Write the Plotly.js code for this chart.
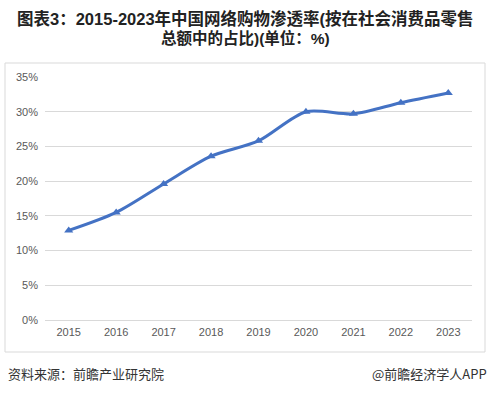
<!DOCTYPE html>
<html><head><meta charset="utf-8">
<script src="https://cdn.plot.ly/plotly-3.0.1.min.js"></script>
<style>html,body{margin:0;padding:0;background:#fff;}#c{width:491px;height:395px;}</style>
</head><body><div id="c"></div>
<script>
const years = ['2015','2016','2017','2018','2019','2020','2021','2022','2023'];
const rates = [12.9, 15.5, 19.6, 23.6, 25.8, 30.0, 29.7, 31.3, 32.7];
const yTicks = [0, 5, 10, 15, 20, 25, 30, 35];
const yTickText = ['0%', '5%', '10%', '15%', '20%', '25%', '30%', '35%'];
const titleLine1 = '图表3：2015-2023年中国网络购物渗透率(按在社会消费品零售';
const titleLine2 = '总额中的占比)(单位：%)';
const sourceText = '资料来源：前瞻产业研究院';
const brandText = '@前瞻经济学人APP';

const cjk = '"Noto Sans CJK SC", "Noto Sans", sans-serif';
const titleFont = '"Liberation Sans", "Noto Sans CJK SC", sans-serif';
const W = 491, H = 395, L = 45, R = 19, T = 77, B = 75;
const pw = W - L - R, ph = H - T - B;
const px = x => (x - L) / pw;
const py = y => (H - B - y) / ph;

Plotly.newPlot('c', [{
  x: years, y: rates, type: 'scatter', mode: 'lines+markers',
  line: {color: '#4472C4', width: 3, shape: 'spline', smoothing: 0.8},
  marker: {symbol: 'triangle-up', size: 8, color: '#4472C4'},
  hoverinfo: 'none'
}], {
  width: W, height: H,
  margin: {l: L, r: R, t: T, b: B},
  paper_bgcolor: '#fff', plot_bgcolor: '#fff',
  showlegend: false,
  xaxis: {
    type: 'category', range: [-0.5, 8.5], showgrid: false, showline: false, zeroline: false,
    ticks: '', tickfont: {family: '"Liberation Sans", Arial, sans-serif', size: 11, color: '#595959'},
    ticklabelstandoff: 4
  },
  yaxis: {
    range: [0, 35], tickvals: yTicks, ticktext: yTickText,
    showgrid: true, gridcolor: '#d9d9d9', gridwidth: 1, zeroline: true, zerolinecolor: '#d9d9d9', zerolinewidth: 1,
    showline: false, ticks: '',
    tickfont: {family: '"Liberation Sans", Arial, sans-serif', size: 11, color: '#595959'},
    ticklabelstandoff: 6
  },
  shapes: [{
    type: 'rect', xref: 'paper', yref: 'paper',
    x0: px(5), x1: px(485), y0: py(352), y1: py(63),
    line: {color: '#d9d9d9', width: 1}, fillcolor: 'rgba(0,0,0,0)', layer: 'below'
  }],
  annotations: [
    {text: '<b>' + titleLine1 + '</b>', xref: 'paper', yref: 'paper', x: px(245.5), y: py(19),
     xanchor: 'center', yanchor: 'middle', showarrow: false,
     font: {family: titleFont, size: 16.5, color: '#222'}},
    {text: '<b>' + titleLine2 + '</b>', xref: 'paper', yref: 'paper', x: px(245.5), y: py(38),
     xanchor: 'center', yanchor: 'middle', showarrow: false,
     font: {family: titleFont, size: 15.5, color: '#222'}},
    {text: sourceText, xref: 'paper', yref: 'paper', x: px(6), y: py(373),
     xanchor: 'left', yanchor: 'middle', showarrow: false,
     font: {family: cjk, size: 13, color: '#333'}},
    {text: brandText, xref: 'paper', yref: 'paper', x: px(489), y: py(373),
     xanchor: 'right', yanchor: 'middle', showarrow: false,
     font: {family: cjk, size: 13, color: '#333'}}
  ]
}, {displayModeBar: false, staticPlot: true});
</script></body></html>
